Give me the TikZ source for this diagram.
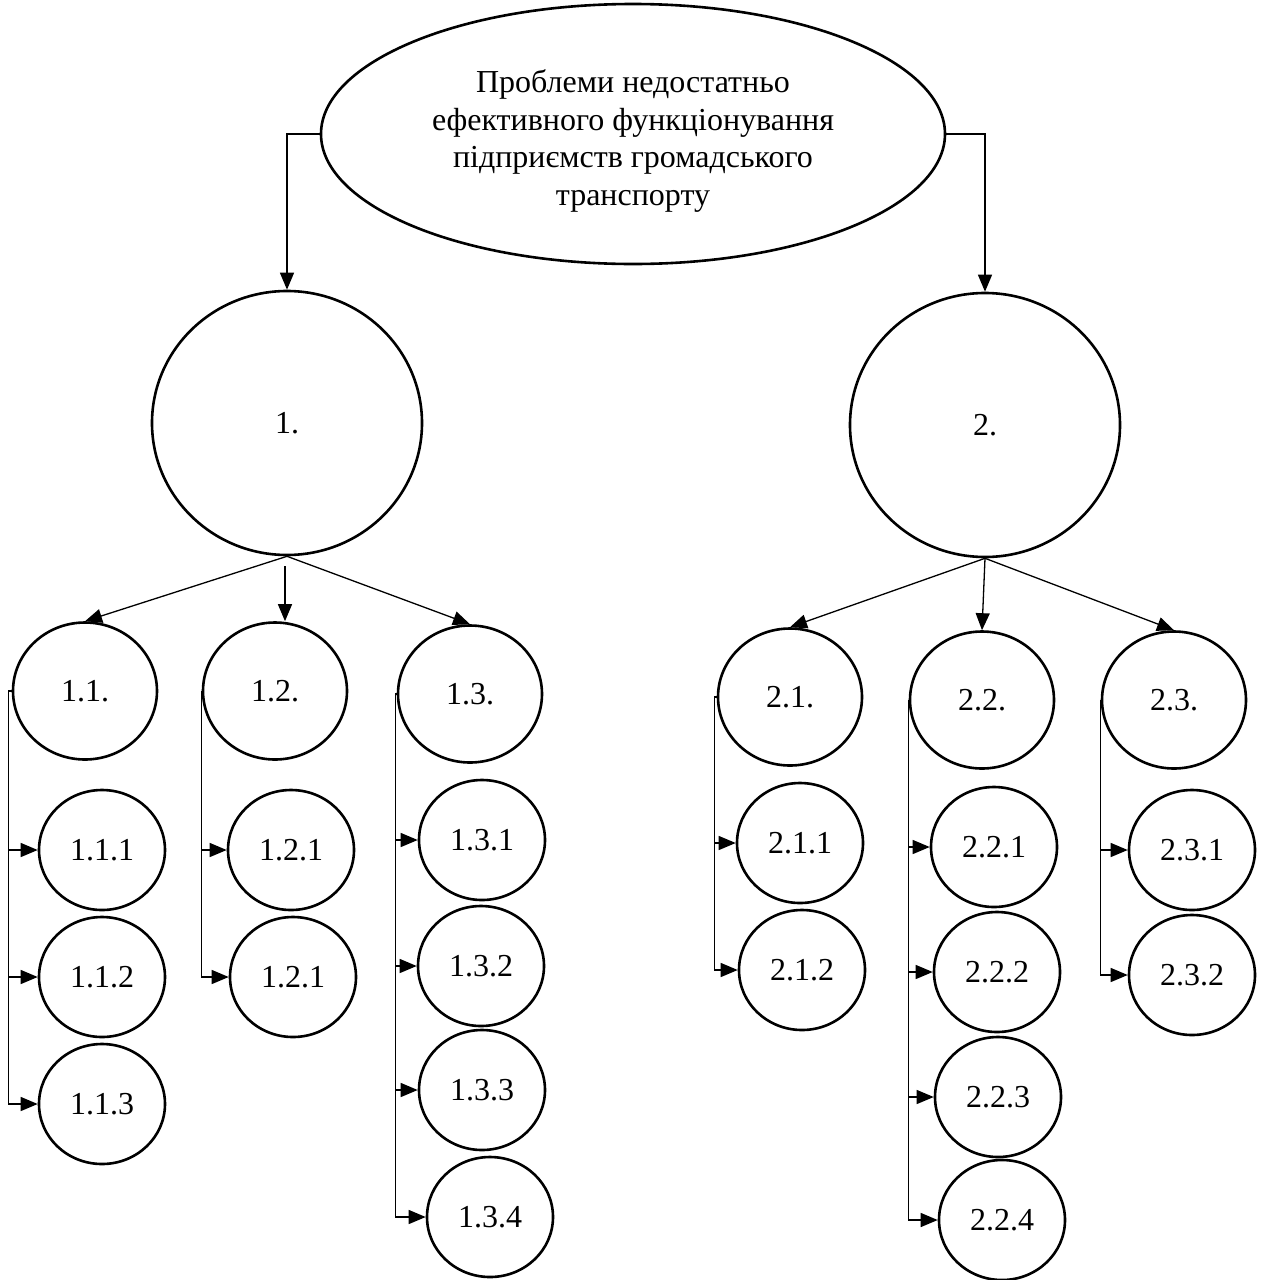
\documentclass[tikz,border=0pt]{standalone}
\usepackage{fontspec}
\setmainfont{Liberation Serif}
\usetikzlibrary{shapes.geometric,arrows.meta}
\begin{document}
\begin{tikzpicture}[x=1pt,y=-1pt,
  every node/.style={font=\fontsize{32}{37.5}\selectfont},
  bub/.style={ellipse,draw,line width=2.6pt,inner sep=0pt},
  big/.style={bub,minimum width=270pt,minimum height=264pt},
  mid/.style={bub,minimum width=144pt,minimum height=137pt},
  small/.style={bub,minimum width=126pt,minimum height=120pt},
  arr/.style={line width=1.3pt,-{Triangle[length=17pt,width=14pt]}}]
\useasboundingbox (0,0) rectangle (1264,1280);
\node[bub,minimum width=624pt,minimum height=260pt] (root) at (633,134) {};
\node[align=center,inner sep=0pt] (title) at (633,141)
  {Проблеми недостатньо\\ефективного функціонування\\підприємств громадського\\транспорту};
\node[big] (n1) at (287,423) {1.};
\node[big] (n2) at (985,425) {2.};
\node[mid] (n11) at (85,691) {1.1.};
\node[mid] (n12) at (275,691) {1.2.};
\node[mid] (n13) at (470,694) {1.3.};
\node[mid] (n21) at (790,697) {2.1.};
\node[mid] (n22) at (982,700) {2.2.};
\node[mid] (n23) at (1174,700) {2.3.};
\node[small] (n111) at (102,850) {1.1.1};
\node[small] (n112) at (102,977) {1.1.2};
\node[small] (n113) at (102,1104) {1.1.3};
\node[small] (n121) at (291,850) {1.2.1};
\node[small] (n122) at (293,977) {1.2.1};
\node[small] (n131) at (482,840) {1.3.1};
\node[small] (n132) at (481,966) {1.3.2};
\node[small] (n133) at (482,1090) {1.3.3};
\node[small] (n134) at (490,1217) {1.3.4};
\node[small] (n211) at (800,843) {2.1.1};
\node[small] (n212) at (802,970) {2.1.2};
\node[small] (n221) at (994,847) {2.2.1};
\node[small] (n222) at (997,972) {2.2.2};
\node[small] (n223) at (998,1097) {2.2.3};
\node[small] (n224) at (1002,1220) {2.2.4};
\node[small] (n231) at (1192,850) {2.3.1};
\node[small] (n232) at (1192,975) {2.3.2};
% root to level 1
\draw[arr] (root.west) -| (n1.north);
\draw[arr] (root.east) -| (n2.north);
% level 1 to level 2
\draw[arr] (n1.south) -- (n11.north);
\draw[arr] (n1.south) ++(-2,10) coordinate (m1) (m1) -- (m1 |- n12.north);
\draw[arr] (n1.south) -- (n13.north);
\draw[arr] (n2.south) -- (n21.north);
\draw[arr] (n2.south) -- (n22.north);
\draw[arr] (n2.south) -- (n23.north);
% brackets
\foreach \c in {n111,n112,n113} \draw[arr] (n11.west) -- ++(-3,0) |- (\c.west);
\foreach \c in {n121,n122} \draw[arr] (n12.west) |- (\c.west);
\foreach \c in {n131,n132,n133,n134} \draw[arr] (n13.west) -- ++(-1,0) |- (\c.west);
\foreach \c in {n211,n212} \draw[arr] (n21.west) -- ++(-2,0) |- (\c.west);
\foreach \c in {n221,n222,n223,n224} \draw[arr] (n22.west) |- (\c.west);
\foreach \c in {n231,n232} \draw[arr] (n23.west) |- (\c.west);
\end{tikzpicture}
\end{document}
